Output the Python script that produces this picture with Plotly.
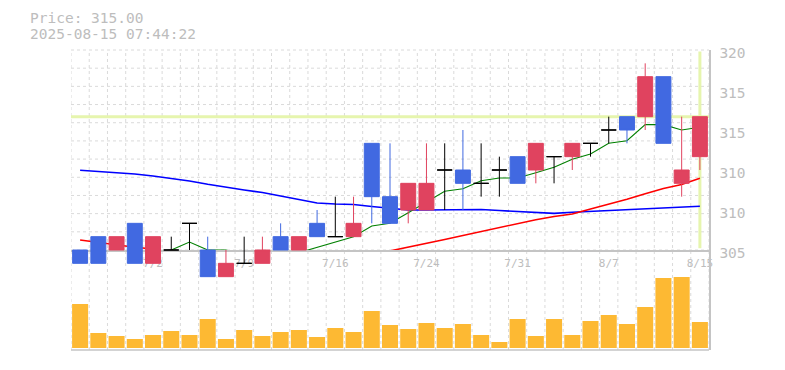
import plotly.graph_objects as go

# ---------------- data ----------------
dates = ['6/26', '6/27', '6/30', '7/1', '7/2', '7/3', '7/4', '7/7', '7/8', '7/9',
         '7/10', '7/11', '7/14', '7/15', '7/16', '7/17', '7/18', '7/22', '7/23', '7/24',
         '7/25', '7/28', '7/29', '7/30', '7/31', '8/1', '8/4', '8/5', '8/6', '8/7',
         '8/8', '8/12', '8/13', '8/14', '8/15']
opens = [305, 306, 305, 307, 304, 305, 307, 305, 303, 304, 304, 306, 305, 307, 306, 306, 313, 309,
         308, 308, 311, 311, 310, 311, 312, 311, 312, 312, 313, 314, 315, 315, 318, 310, 312]
highs = [305, 306, 306, 307, 306, 306, 307, 306, 305, 306, 306, 307, 306, 308, 309, 309, 313, 313,
         310, 313, 313, 314, 313, 312, 312, 313, 312, 313, 313, 315, 315, 319, 318, 315, 315]
lows = [304, 304, 305, 304, 304, 305, 305, 303, 303, 304, 304, 305, 305, 306, 306, 306, 307, 307,
        307, 308, 308, 308, 309, 309, 310, 310, 310, 311, 312, 313, 313, 314, 313, 309, 311]
closes = [304, 304, 306, 304, 306, 305, 307, 303, 304, 304, 305, 305, 306, 306, 306, 307, 309, 307,
          310, 310, 311, 310, 310, 311, 310, 313, 312, 313, 313, 314, 314, 318, 313, 311, 315]
volumes = [13200, 4500, 3600, 2700, 3900, 5100, 3900, 8700, 2700, 5400, 3600, 4800, 5400, 3300,
           6000, 4800, 11100, 6900, 5700, 7500, 6000, 7200, 3900, 1800, 8700, 3600, 8700, 3900,
           8100, 9900, 7200, 12300, 21000, 21300, 7800]
ma_short = [None, None, None, None, 304.8, 305.0, 305.6, 305.0, 305.0, 304.6, 304.6, 304.2,
            304.8, 305.2, 305.6, 306.0, 306.8, 307.0, 307.8, 308.6, 309.4, 309.6, 310.2, 310.4,
            310.4, 310.8, 311.2, 311.8, 312.2, 313.0, 313.2, 314.4, 314.4, 314.0, 314.2]
ma_mid = [305.75, 305.56, 305.38, 305.20, 305.07, 304.7, None, None, None, None, None, None,
          None, None, None, None, None, 304.93, 305.20, 305.50, 305.79, 306.09, 306.39, 306.69,
          306.98, 307.27, 307.51, 307.70, 308.08, 308.43, 308.81, 309.22, 309.61, 309.91, 310.38]
ma_long = [310.98, 310.90, 310.83, 310.70, 310.55, 310.38, 310.18, 309.93, 309.70, 309.50,
           309.31, 309.05, 308.79, 308.53, 308.45, 308.41, 308.26, 308.11, 308.00, 308.00,
           308.02, 308.04, 308.04, 307.96, 307.89, 307.81, 307.75, 307.83, 307.89, 307.96,
           308.04, 308.11, 308.15, 308.23, 308.28]
price_ticks = [305, 308, 311, 314, 317, 320]
price_tick_text = ['305', '310', '310', '315', '315', '320']
date_ticks = ['7/2', '7/9', '7/16', '7/24', '7/31', '8/7', '8/15']
title_price = 'Price: 315.00'
title_time = '2025-08-15 07:44:22'

# ---------------- styles ----------------
UP = '#e0435f'
DOWN = '#4169e1'
VOL = '#fdb933'
GRID = '#dadada'
AXIS = '#c4c4c4'
TXT = '#bdbdbd'
CROSS = '#e6f5ae'
MONO = 'DejaVu Sans Mono'
W, H = 785, 370
ML, MR, MT, MB = 71, 76, 50, 20
PH = H - MT - MB            # plot height in px (300)
PW = W - ML - MR
PX_PER_YEN = 40 / 3
N_HGRID = 11                # horizontal grid intervals in the price panel
PRICE_BOTTOM_PX = 200       # price panel height (px from top of plot area)


def subset(cond):
    idx = [i for i in range(len(dates)) if cond(opens[i], closes[i])]
    return dict(x=[dates[i] for i in idx], open=[opens[i] for i in idx],
                high=[highs[i] for i in idx], low=[lows[i] for i in idx],
                close=[closes[i] for i in idx])


def candle(data, color):
    return go.Candlestick(
        **data, xaxis='x', yaxis='y4',
        increasing=dict(line=dict(color=color, width=1), fillcolor=color),
        decreasing=dict(line=dict(color=color, width=1), fillcolor=color),
        whiskerwidth=0, showlegend=False, hoverinfo='skip')


fig = go.Figure()

# moving averages (clipped to the price panel, drawn first -> below candles)
fig.add_trace(go.Scatter(x=dates, y=ma_long, xaxis='x', yaxis='y', mode='lines',
                         line=dict(color='#0000ff', width=1.6), showlegend=False, hoverinfo='skip'))
fig.add_trace(go.Scatter(x=dates, y=ma_mid, xaxis='x', yaxis='y', mode='lines',
                         line=dict(color='#ff0000', width=1.6), showlegend=False, hoverinfo='skip'))
fig.add_trace(go.Scatter(x=dates, y=ma_short, xaxis='x', yaxis='y', mode='lines',
                         line=dict(color='#008000', width=1.1), showlegend=False, hoverinfo='skip'))

# volume
fig.add_trace(go.Bar(x=dates, y=volumes, xaxis='x', yaxis='y2',
                     marker=dict(color=VOL, line=dict(width=0)),
                     showlegend=False, hoverinfo='skip'))

# candles
fig.add_trace(candle(subset(lambda o, c: c > o), UP))
fig.add_trace(candle(subset(lambda o, c: c < o), DOWN))
fig.add_trace(candle(subset(lambda o, c: c == o), '#000000'))

n = len(dates)
price_dom_bottom = (PH - PRICE_BOTTOM_PX) / PH
fig.update_layout(
    width=W, height=H,
    margin=dict(l=ML, r=MR, t=MT, b=MB, autoexpand=False),
    paper_bgcolor='white', plot_bgcolor='rgba(0,0,0,0)',
    hovermode=False, showlegend=False,
    boxgap=0.18, boxgroupgap=0, bargap=0.12,
    font=dict(family=MONO, color=TXT),
    xaxis=dict(type='category', categoryorder='array', categoryarray=dates,
               range=[-0.5, n - 0.5], anchor='y', showgrid=False, automargin=False,
               tickmode='array', tickvals=date_ticks, ticktext=date_ticks,
               tickfont=dict(family=MONO, size=11, color=TXT), ticks='',
               ticklabelstandoff=2,
               showline=True, linecolor=AXIS, linewidth=1.5, layer='below traces',
               zeroline=False, rangeslider=dict(visible=False), fixedrange=True),
    # MA axis: same scale as the candle axis, but clipped at the price panel bottom
    yaxis=dict(domain=[price_dom_bottom, 1], range=[320 - PRICE_BOTTOM_PX / PX_PER_YEN, 320],
               anchor='x', showgrid=False, showticklabels=False, ticks='', showline=False,
               zeroline=False, automargin=False),
    yaxis2=dict(domain=[2 / PH, 2 / PH + 0.25], range=[0, 22500], anchor='x', automargin=False,
                showgrid=False, showticklabels=False, ticks='', showline=False, zeroline=False),
    # candle axis spanning the whole plot area (candles may dip below the panel)
    yaxis4=dict(domain=[0, 1], range=[320 - PH / PX_PER_YEN, 320], side='right', anchor='x',
                tickmode='array', tickvals=price_ticks, ticktext=price_tick_text,
                tickfont=dict(family=MONO, size=14.5, color=TXT), ticks='',
                ticklabelstandoff=6, ticklabelshift=3, automargin=False,
                showgrid=False, showline=True, linecolor=AXIS, linewidth=1.5,
                zeroline=False, fixedrange=True),
)

# dashed background grid: vertical lines at candle boundaries, square-ish horizontal grid
grid_line = dict(color=GRID, width=1, dash='3px,3px')
for k in range(n + 1):
    fig.add_shape(type='line', xref='x', x0=k - 0.5, x1=k - 0.5, yref='paper', y0=0, y1=1,
                  line=grid_line, layer='below')
for k in range(N_HGRID + 1):
    yy = price_dom_bottom + (1 - price_dom_bottom) * k / N_HGRID
    fig.add_shape(type='line', xref='paper', x0=0, x1=1, yref='paper', y0=yy, y1=yy,
                  line=grid_line, layer='below')

# crosshair at the latest close
fig.add_shape(type='line', xref='paper', x0=0, x1=1, yref='y4', y0=closes[-1], y1=closes[-1],
              line=dict(color=CROSS, width=3), layer='below')
fig.add_shape(type='line', xref='x', x0=n - 1, x1=n - 1, yref='paper',
              y0=price_dom_bottom + 0.006, y1=0.995,
              line=dict(color=CROSS, width=3), layer='below')

# bottom baseline of the volume panel
fig.add_shape(type='line', xref='paper', x0=0, x1=1, yref='paper', y0=0, y1=0,
              line=dict(color=AXIS, width=1.5), layer='above')


# header text (pixel positions converted to paper coordinates)
def px_to_paper(px, py):
    return (px - ML) / PW, (PH + MT - py) / PH


for txt, py in [(title_price, 18), (title_time, 33.5)]:
    ax_, ay_ = px_to_paper(28, py)
    fig.add_annotation(text=txt, xref='paper', yref='paper', x=ax_, y=ay_,
                       xanchor='left', yanchor='middle', showarrow=False,
                       font=dict(family=MONO, size=14.5, color=TXT))

fig.write_html('out.html', config=dict(displayModeBar=False, staticPlot=True),
               post_script="document.body.style.margin='0';document.body.style.overflow='hidden';")
